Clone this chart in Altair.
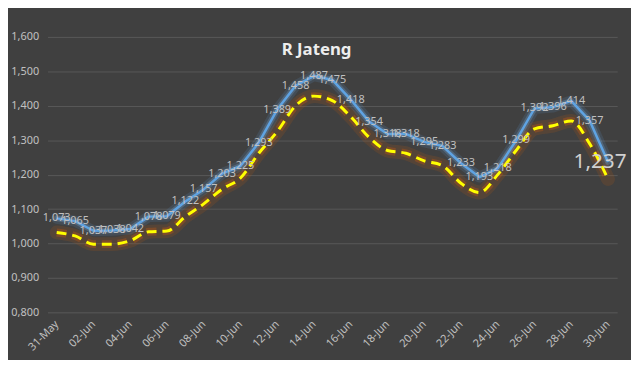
import altair as alt
import pandas as pd

dates = ["31-May", "01-Jun", "02-Jun", "03-Jun", "04-Jun", "05-Jun", "06-Jun", "07-Jun",
         "08-Jun", "09-Jun", "10-Jun", "11-Jun", "12-Jun", "13-Jun", "14-Jun", "15-Jun",
         "16-Jun", "17-Jun", "18-Jun", "19-Jun", "20-Jun", "21-Jun", "22-Jun", "23-Jun",
         "24-Jun", "25-Jun", "26-Jun", "27-Jun", "28-Jun", "29-Jun", "30-Jun"]
r_values = [1.073, 1.065, 1.037, 1.038, 1.042, 1.078, 1.079, 1.122, 1.157, 1.203, 1.225,
            1.293, 1.389, 1.458, 1.487, 1.475, 1.418, 1.354, 1.318, 1.318, 1.295, 1.283,
            1.233, 1.193, 1.218, 1.299, 1.392, 1.396, 1.414, 1.357, 1.237]
trend_values = [1.032, 1.022, 0.998, 0.998, 1.008, 1.034, 1.036, 1.078, 1.115, 1.158, 1.190,
                1.262, 1.325, 1.400, 1.428, 1.415, 1.368, 1.308, 1.270, 1.262, 1.240, 1.226,
                1.175, 1.148, 1.200, 1.270, 1.333, 1.342, 1.356, 1.290, 1.187]
tick_labels = dates[::2]
y_ticks = [0.8, 0.9, 1.0, 1.1, 1.2, 1.3, 1.4, 1.5, 1.6]

df = pd.DataFrame({"date": dates, "r": r_values, "trend": trend_values})
df["is_last"] = [False] * (len(dates) - 1) + [True]

FONT = "Noto Sans"
LABEL_COLOR = "#C0C0C0"

x_enc = alt.X(
    "date:N", sort=dates, title=None,
    scale=alt.Scale(type="point", padding=0.5),
    axis=alt.Axis(values=tick_labels, labelAngle=-45, labelAlign="right",
                  labelBaseline="middle", labelPadding=10, labelColor=LABEL_COLOR,
                  labelFontSize=11, labelFont=FONT, ticks=False, domain=False,
                  grid=False, labelOverlap=False),
)
y_scale = alt.Scale(domain=[0.8, 1.6], nice=False, zero=False)
y_axis = alt.Axis(values=y_ticks, labelExpr="replace(format(datum.value, '.3f'), '.', ',')",
                  labelColor=LABEL_COLOR, labelFontSize=11, labelFont=FONT,
                  labelPadding=9, ticks=False, domain=False, gridColor="#585858",
                  gridWidth=1, labelOverlap=False, tickCount=9)

base = alt.Chart(df).encode(x=x_enc)

y_r = alt.Y("r:Q", scale=y_scale, axis=y_axis, title=None)
y_t = alt.Y("trend:Q", scale=y_scale, axis=y_axis, title=None)

trend_glow_wide = base.mark_line(color="#B8560F", strokeWidth=14, opacity=0.18,
                                 interpolate="monotone", strokeCap="round").encode(y=y_t)
trend_glow = base.mark_line(color="#C55A11", strokeWidth=8, opacity=0.35,
                            strokeDash=[10, 6], interpolate="monotone").encode(y=y_t)
r_glow_wide = base.mark_line(color="#5B9BD5", strokeWidth=11, opacity=0.15,
                             strokeJoin="round", strokeCap="round").encode(y=y_r)
r_glow = base.mark_line(color="#7DB3E6", strokeWidth=6, opacity=0.25,
                        strokeJoin="round", strokeCap="round").encode(y=y_r)
r_line = base.mark_line(color="#5FA3E2", strokeWidth=2.5, strokeJoin="round").encode(y=y_r)
trend_line = base.mark_line(color="#FFFF00", strokeWidth=3, strokeDash=[10, 6],
                            interpolate="monotone").encode(y=y_t)

labels = base.transform_filter("!datum.is_last").transform_calculate(
    lbl="replace(format(datum.r, '.3f'), '.', ',')"
).mark_text(font=FONT, fontSize=11, color=LABEL_COLOR, align="center",
            baseline="middle").encode(y=y_r, text="lbl:N")

last_label = base.transform_filter("datum.is_last").transform_calculate(
    lbl="replace(format(datum.r, '.3f'), '.', ',')"
).mark_text(font=FONT, fontSize=21, color="#D0D0D0", align="center",
            baseline="middle", dx=-8).encode(y=y_r, text="lbl:N")

chart = alt.layer(trend_glow_wide, trend_glow, r_glow_wide, r_glow, r_line, trend_line,
                  labels, last_label).properties(
    width=577, height=279,
    title=alt.TitleParams("R Jateng", font=FONT, fontSize=17, fontWeight="bold",
                          color="#EDEDED", anchor="middle", dy=32, dx=-16),
    background="#404040",
    padding={"left": 40, "top": 27, "right": 14, "bottom": 46},
    autosize=alt.AutoSizeParams(type="none"),
).configure_view(stroke=None)

chart.save("out.html", embed_options={"renderer": "svg", "actions": False})
